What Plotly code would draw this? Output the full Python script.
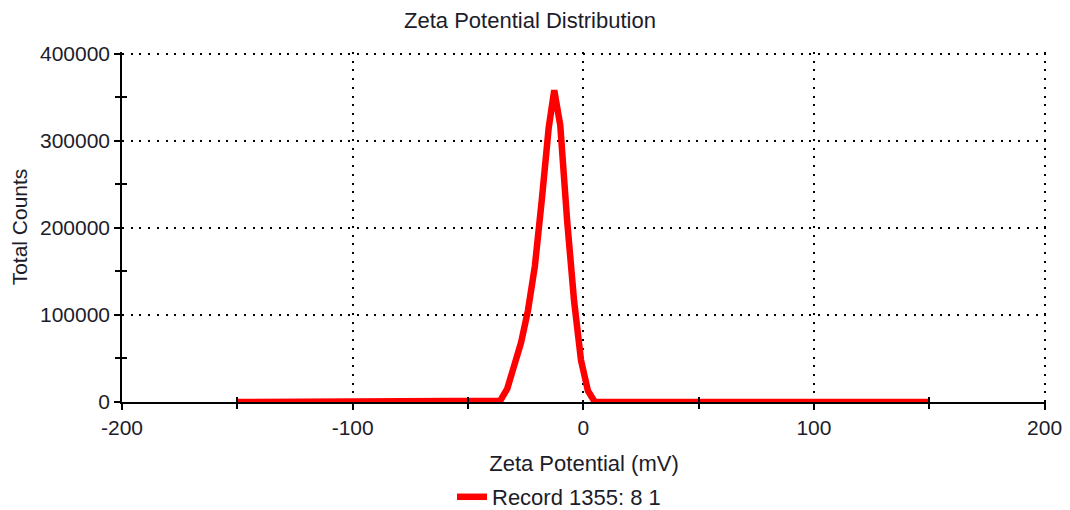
import plotly.graph_objects as go

zeta_mv = [-150, -38, -36, -33, -30, -27, -24, -21, -18, -15, -12.6, -10, -7, -4, -1, 2, 5, 150]
total_counts = [0, 0, 1500, 15000, 42000, 68000, 105000, 156000, 232000, 315000, 358000,
                318000, 208000, 116000, 48000, 13000, 0, 0]
x_ticks = [-200, -100, 0, 100, 200]
x_labels = ["-200", "-100", "0", "100", "200"]
x_minor = [-150, -50, 50, 150]
y_ticks = [0, 100000, 200000, 300000, 400000]
y_labels = ["0", "100000", "200000", "300000", "400000"]
y_minor = [50000, 150000, 250000, 350000]
series_name = "Record 1355: 8 1"

FONT = "Liberation Sans, Arial, sans-serif"
TXT = "#1c1c2a"
DOT = "2px,6.7px"

# page body has an 8px margin: the figure is sized/placed to compensate
W, H = 1062, 502
L, T, R, B = 114, 44, 24, 108

fig = go.Figure()
fig.add_trace(go.Scatter(x=zeta_mv, y=total_counts, mode="lines", name=series_name,
                         line=dict(color="#ff0000", width=6.5), showlegend=True))
# invisible trace on overlay axes: draws the inside half of the crossing ticks
fig.add_trace(go.Scatter(x=[zeta_mv[0]], y=[total_counts[0]], xaxis="x2", yaxis="y2",
                         mode="markers", marker=dict(opacity=0), showlegend=False,
                         hoverinfo="skip"))

XR = [-200, 200.6]
YR = [0, 402000]
pw, ph = W - L - R, H - T - B

fig.update_layout(
    width=W, height=H,
    paper_bgcolor="white", plot_bgcolor="white",
    margin=dict(l=L, r=R, t=T, b=B, autoexpand=False),
    font=dict(family=FONT, color=TXT, size=21),
    title=dict(text="Zeta Potential Distribution", x=(530 - 8) / W, xanchor="center",
               y=1 - (20 - 8) / H, yanchor="middle", font=dict(size=22, color=TXT)),
    xaxis=dict(range=XR, tickvals=x_ticks, ticktext=x_labels, automargin=False,
               showline=True, linecolor="#000", linewidth=1.5, zeroline=False,
               ticks="outside", ticklen=6, tickwidth=1.5, tickcolor="#000",
               showgrid=True, gridcolor="#000", griddash=DOT, gridwidth=1.5,
               minor=dict(tickvals=x_minor, ticks="outside", ticklen=5,
                          tickwidth=1.5, tickcolor="#000", showgrid=False),
               title=dict(text="Zeta Potential (mV)", standoff=18, font=dict(size=22)),
               tickfont=dict(size=21)),
    yaxis=dict(range=YR, tickvals=y_ticks, ticktext=y_labels, automargin=False,
               showline=True, linecolor="#000", linewidth=1.5, zeroline=False,
               ticks="outside", ticklen=6, tickwidth=1.5, tickcolor="#000",
               showgrid=True, gridcolor="#000", griddash=DOT, gridwidth=1.5,
               minor=dict(tickvals=y_minor, ticks="outside", ticklen=5,
                          tickwidth=1.5, tickcolor="#000", showgrid=False),
               title=dict(text="Total Counts", standoff=10, font=dict(size=21)),
               tickfont=dict(size=21)),
    xaxis2=dict(range=XR, overlaying="x", matches="x", tickvals=x_minor,
                ticks="inside", ticklen=5, tickwidth=1.5, tickcolor="#000",
                showticklabels=False, showgrid=False, zeroline=False, automargin=False),
    yaxis2=dict(range=YR, overlaying="y", matches="y", tickvals=y_minor,
                ticks="inside", ticklen=5, tickwidth=1.5, tickcolor="#000",
                showticklabels=False, showgrid=False, zeroline=False, automargin=False),
    legend=dict(orientation="h", x=(452 - 122) / pw, xanchor="left",
                y=-(497 - 402) / ph, yanchor="middle",
                font=dict(size=22, color=TXT), bgcolor="rgba(0,0,0,0)"),
    showlegend=True,
)

fig.write_html("out.html")
